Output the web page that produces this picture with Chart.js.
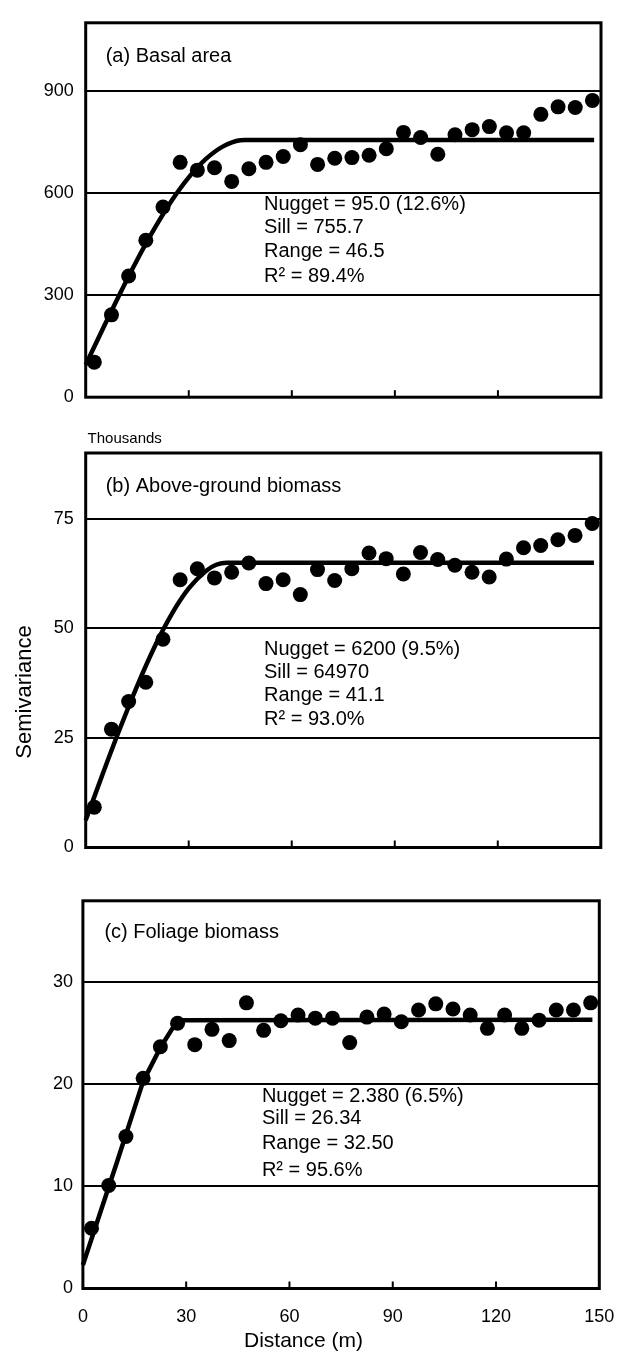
<!DOCTYPE html>
<html><head><meta charset="utf-8">
<script src="https://cdn.jsdelivr.net/npm/chart.js@4/dist/chart.umd.min.js"></script>
<style>
html,body{margin:0;padding:0;background:#fff;width:626px;height:1354px;overflow:hidden;}
canvas{position:absolute;left:0;}
</style></head><body>
<canvas id="ca" width="626" height="420" style="top:0px"></canvas>
<canvas id="cb" width="626" height="460" style="top:420px"></canvas>
<canvas id="cc" width="626" height="474" style="top:880px"></canvas>
<script>
// ---------- data ----------
const distances = [2.5, 7.5, 12.5, 17.5, 22.5, 27.5, 32.5, 37.5, 42.5, 47.5,
                   52.5, 57.5, 62.5, 67.5, 72.5, 77.5, 82.5, 87.5, 92.5, 97.5,
                   102.5, 107.5, 112.5, 117.5, 122.5, 127.5, 132.5, 137.5, 142.5, 147.5];
const xTicks = [0, 30, 60, 90, 120, 150];

const basalArea = [103, 242, 356, 461, 559, 690, 667, 674, 634, 671,
                   690, 707, 742, 684, 702, 704, 711, 730, 778, 763,
                   714, 771, 786, 795, 777, 777, 831, 853, 851, 872];
const basalFitX = [0, 5, 10, 15, 20, 25, 30, 35, 40, 45, 46.5, 148];
const basalFitY = [95, 201, 305, 404, 495, 577, 646, 700, 737, 755, 755.7, 755.7];
const basalTicks = [0, 300, 600, 900];

const aboveGround = [9.2, 27.0, 33.3, 37.7, 47.5, 61.1, 63.6, 61.5, 62.8, 64.9,
                     60.2, 61.1, 57.7, 63.4, 60.9, 63.6, 67.2, 65.9, 62.4, 67.3,
                     65.7, 64.4, 62.8, 61.7, 65.8, 68.4, 68.9, 70.2, 71.2, 73.9];
const aboveFitX = [0, 5, 10, 15, 20, 25, 30, 35, 38, 41.1, 148];
const aboveFitY = [6.2, 16.9, 27.2, 36.9, 45.7, 53.2, 59.1, 63.1, 64.5, 64.97, 64.97];
const aboveTicks = [0, 25, 50, 75];

const foliage = [5.9, 10.1, 14.9, 20.6, 23.7, 26.0, 23.9, 25.4, 24.3, 28.0,
                 25.3, 26.25, 26.8, 26.5, 26.5, 24.1, 26.6, 26.9, 26.15, 27.3,
                 27.9, 27.4, 26.8, 25.5, 26.8, 25.5, 26.3, 27.3, 27.3, 28.0];
const foliageFitX = [0, 5, 10, 15, 17.5, 22.5, 27.5, 148];
const foliageFitY = [2.3, 7.4, 12.5, 17.7, 20.3, 23.6, 26.3, 26.34];
const foliageTicks = [0, 10, 20, 30];

const titles = ['(a) Basal area', '(b) Above-ground biomass', '(c) Foliage biomass'];
const notesA = ['Nugget = 95.0 (12.6%)', 'Sill = 755.7', 'Range = 46.5', 'R² = 89.4%'];
const notesB = ['Nugget = 6200 (9.5%)', 'Sill = 64970', 'Range = 41.1', 'R² = 93.0%'];
const notesC = ['Nugget = 2.380 (6.5%)', 'Sill = 26.34', 'Range = 32.50', 'R² = 95.6%'];
const yTitle = 'Semivariance';
const xTitle = 'Distance (m)';
const unitNote = 'Thousands';

// ---------- drawing ----------
const FONT = '"Liberation Sans", Arial, Helvetica, sans-serif';
Chart.defaults.font.family = FONT;
Chart.defaults.color = '#000';

function pts(xs, ys) { return xs.map((x, i) => ({x: x, y: ys[i]})); }

function makePanel(id, o) {
  const H = o.height;
  const a = o.area; // chart area in canvas coords
  const panelPlugin = {
    id: 'panel_' + id,
    beforeDatasetsDraw(chart) {
      const ctx = chart.ctx, ca = chart.chartArea, xs = chart.scales.x;
      ctx.save();
      ctx.strokeStyle = '#000';
      ctx.lineWidth = 3;
      ctx.strokeRect(ca.left, ca.top, ca.right - ca.left, ca.bottom - ca.top);
      ctx.lineWidth = 2;
      xTicks.slice(1, -1).forEach(v => {
        const px = xs.getPixelForValue(v);
        ctx.beginPath();
        ctx.moveTo(px, ca.bottom);
        ctx.lineTo(px, ca.bottom - 7);
        ctx.stroke();
      });
      ctx.restore();
    },
    afterDraw(chart) {
      const ctx = chart.ctx, ca = chart.chartArea;
      ctx.save();
      ctx.fillStyle = '#000';
      ctx.textBaseline = 'middle';
      ctx.textAlign = 'left';
      ctx.font = '20px ' + FONT;
      ctx.fillText(o.title, ca.left + o.titleDx, ca.top + o.titleDy);
      o.notes.forEach((t, i) => ctx.fillText(t, ca.left + o.noteDx, o.noteY[i]));
      if (o.extra) o.extra(ctx, chart);
      ctx.restore();
    }
  };
  return new Chart(document.getElementById(id), {
    type: 'scatter',
    data: {
      datasets: [
        {data: pts(o.fitX, o.fitY), showLine: true, borderColor: '#000', borderWidth: 4.5,
         pointRadius: 0, cubicInterpolationMode: o.smooth ? 'monotone' : 'default', tension: 0,
         clip: false, order: 2},
        {data: pts(distances, o.values), backgroundColor: '#000', borderWidth: 0,
         pointRadius: 7.5, pointHoverRadius: 7.5, clip: false, order: 1}
      ]
    },
    options: {
      responsive: false, animation: false, devicePixelRatio: 1,
      layout: {autoPadding: false, padding: {left: 0, top: a.top, right: 626 - a.right, bottom: 0}},
      plugins: {legend: {display: false}, tooltip: {enabled: false}},
      events: [],
      scales: {
        x: {
          type: 'linear', min: 0, max: 150,
          afterBuildTicks: s => { s.ticks = xTicks.map(v => ({value: v})); },
          afterFit: s => { s.height = H - a.bottom; },
          grid: {display: false},
          border: {display: false},
          ticks: {display: o.showX, font: {size: 18}, color: '#000', padding: 10, maxRotation: 0}
        },
        y: {
          type: 'linear', min: 0, max: o.yMax,
          afterBuildTicks: s => { s.ticks = o.yTicks.map(v => ({value: v})); },
          afterFit: s => { s.width = a.left; },
          grid: {color: '#000', lineWidth: 2, drawTicks: false},
          border: {display: false},
          ticks: {font: {size: 18}, color: '#000', padding: o.yPad}
        }
      }
    },
    plugins: [panelPlugin]
  });
}

makePanel('ca', {
  height: 420, area: {left: 85.7, top: 10, right: 601, bottom: 399.5},
  yMax: 1100, yTicks: basalTicks, values: basalArea, fitX: basalFitX, fitY: basalFitY, smooth: true,
  showX: false, yPad: 12, title: titles[0], titleDx: 20, titleDy: 34,
  notes: notesA, noteDx: 178.3, noteY: [204, 227.5, 251, 276]
});

makePanel('cb', {
  height: 460, area: {left: 85.7, top: 33, right: 600.8, bottom: 427.5},
  yMax: 90, yTicks: aboveTicks, values: aboveGround, fitX: aboveFitX, fitY: aboveFitY, smooth: true,
  showX: false, yPad: 12, title: titles[1], titleDx: 20, titleDy: 33.7,
  notes: notesB, noteDx: 178.3, noteY: [229.3, 252.3, 275, 299.3],
  extra: (ctx) => {
    ctx.font = '15px ' + FONT;
    ctx.fillText(unitNote, 87.6, 18.5);
    ctx.save();
    ctx.translate(25, 272);
    ctx.rotate(-Math.PI / 2);
    ctx.textAlign = 'center';
    ctx.font = '22px ' + FONT;
    ctx.fillText(yTitle, 0, 0);
    ctx.restore();
  }
});

makePanel('cc', {
  height: 474, area: {left: 82.9, top: 11.7, right: 599.3, bottom: 408.5},
  yMax: 38, yTicks: foliageTicks, values: foliage, fitX: foliageFitX, fitY: foliageFitY, smooth: false,
  showX: true, yPad: 10, title: titles[2], titleDx: 21.5, titleDy: 31.6,
  notes: notesC, noteDx: 179, noteY: [216, 238.3, 263.3, 290],
  extra: (ctx) => {
    ctx.textAlign = 'center';
    ctx.font = '21px ' + FONT;
    ctx.fillText(xTitle, 303.5, 461.7);
  }
});
</script>
</body></html>
